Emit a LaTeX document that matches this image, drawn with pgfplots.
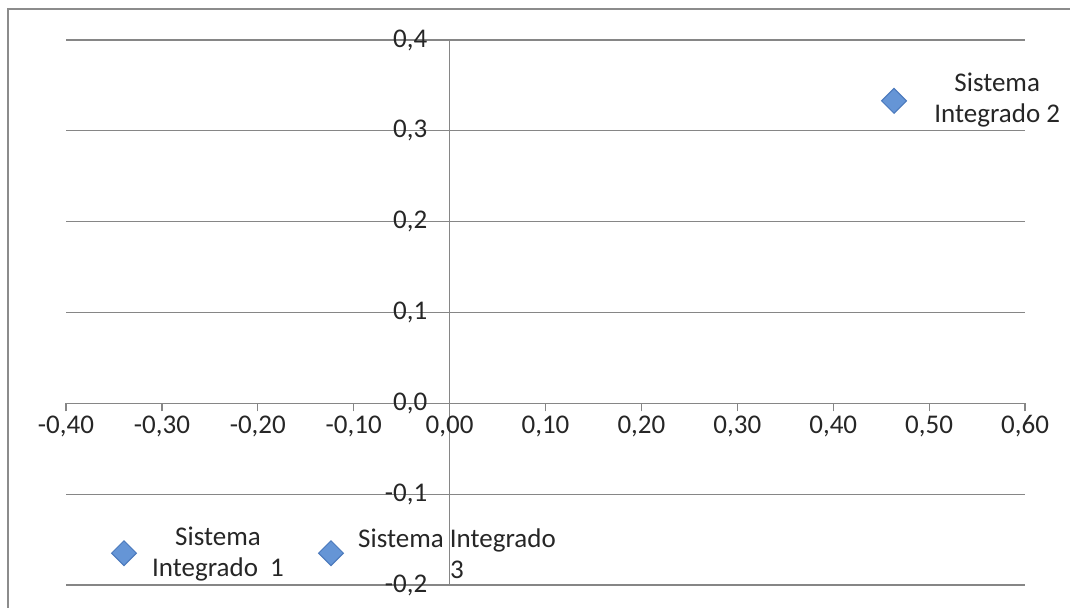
\documentclass[border=0pt]{standalone}
\usepackage{pgfplots}
\pgfplotsset{compat=1.18}
\usepackage{fontspec}
\setmainfont{Carlito}
\definecolor{gridc}{HTML}{868686}
\definecolor{framec}{HTML}{8C8C8C}
\definecolor{markfill}{HTML}{6595D6}
\definecolor{markdraw}{HTML}{4B79BC}
\definecolor{txt}{HTML}{262626}
\begin{document}
\begin{tikzpicture}[x=1pt,y=1pt]
\useasboundingbox (0,0) rectangle (535,-304);
\draw[framec, line width=1pt] (4,-310) -- (4,-4.5) -- (540,-4.5);
\begin{axis}[
  scale only axis,
  width=479.5pt, height=272.5pt,
  at={(33pt,-292.5pt)}, anchor=south west,
  xmin=-0.4, xmax=0.6, ymin=-0.2, ymax=0.4,
  axis lines=middle,
  axis line style={gridc, line width=0.6pt, -},
  hide obscured x ticks=false, hide obscured y ticks=false,
  xtick={-0.4,-0.3,-0.2,-0.1,0,0.1,0.2,0.3,0.4,0.5,0.6},
  ytick={-0.2,-0.1,0,0.1,0.2,0.3,0.4},
  ymajorgrids,
  grid style={gridc, line width=0.6pt},
  major tick length=4pt,
  xtick style={gridc, line width=0.6pt, yshift=-2pt},
  ytick style={draw=none},
  clip=false,
  xticklabel style={font=\fontsize{13.5}{15}\selectfont, text=txt, anchor=north, inner sep=0pt, yshift=-4pt,
    /pgf/number format/.cd, fixed, fixed zerofill, precision=2, use comma, assume math mode=true},
  yticklabel style={font=\fontsize{13.5}{15}\selectfont, text=txt, anchor=east, inner sep=0pt, xshift=-9pt,
    /pgf/number format/.cd, fixed, fixed zerofill, precision=1, use comma, assume math mode=true},
]
\addplot[only marks, mark=square*, mark size=4.4pt,
  mark options={rotate=45, fill=markfill, draw=markdraw, line width=0.5pt}]
  coordinates {(-0.3395,-0.165) (0.4634,0.333) (-0.1237,-0.165)};
\node[font=\fontsize{13.5}{15.5}\selectfont, text=txt, align=center] at (axis cs:0.571,0.334) {Sistema\\Integrado 2};
\node[font=\fontsize{13.5}{15.5}\selectfont, text=txt, align=center] at (axis cs:-0.2415,-0.166) {Sistema\\Integrado\ \ 1};
\node[font=\fontsize{13.5}{15.5}\selectfont, text=txt, align=center] at (axis cs:0.0077,-0.166) {Sistema Integrado\\3};
\end{axis}
\end{tikzpicture}
\end{document}
